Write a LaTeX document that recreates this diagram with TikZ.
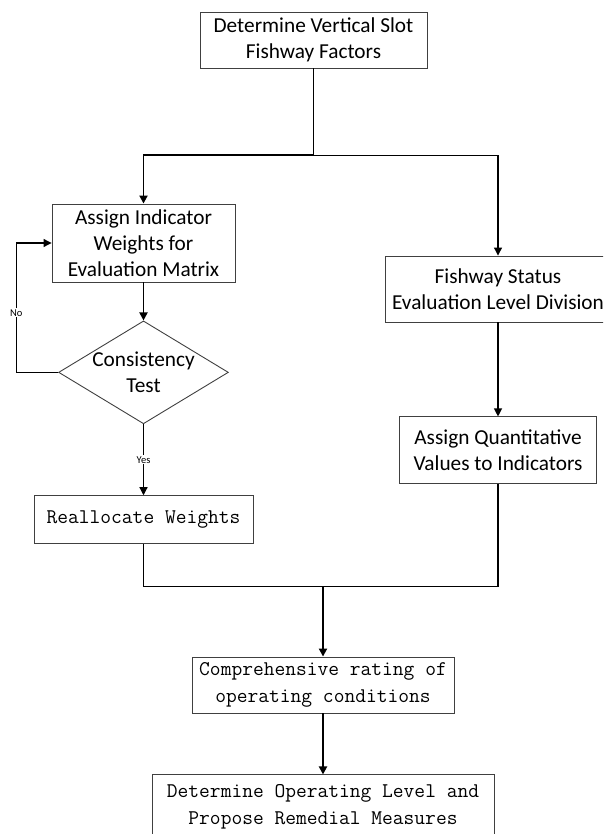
\documentclass[tikz,border=0pt]{standalone}
\usepackage{fontspec}
\setmainfont{Carlito}
\usetikzlibrary{shapes.geometric, arrows.meta, positioning, calc}

\begin{document}
\begin{tikzpicture}[
    x=1pt, y=1pt,
    process/.style={draw=black!75, line width=0.9pt, rectangle, align=center, font=\fontsize{21.3}{26}\selectfont, inner sep=2pt},
    mono/.style={draw=black!75, line width=0.9pt, rectangle, align=center, font=\fontsize{20.9}{27}\selectfont\ttfamily, inner sep=2pt},
    decision/.style={draw=black!75, line width=0.9pt, diamond, aspect=1.65, minimum width=168pt, minimum height=102pt, align=center, font=\fontsize{21.3}{26}\selectfont, inner sep=0pt},
    arrow/.style={draw, line width=1.1pt, -{Triangle[length=8pt,width=8pt]}},
    link/.style={draw, line width=1.1pt},
    heavy/.style={line width=1.9pt},
    tag/.style={font=\fontsize{10.5}{12}\selectfont, fill=white, inner sep=1pt}
]
\clip (0,0) rectangle (603,-834);

\node[process, minimum width=227pt, minimum height=56pt] (factors) at (313.5,-40) {Determine Vertical Slot\\Fishway Factors};
\node[process, minimum width=183pt, minimum height=78pt] (weights) at (143.5,-243) {Assign Indicator\\Weights for\\Evaluation Matrix};
\node[decision, below=38pt of weights] (test) {Consistency\\Test};
\node[mono, minimum width=219pt, minimum height=48pt, below=71pt of test] (realloc) {Reallocate Weights};
\node[process, minimum width=226pt, minimum height=66pt] (division) at (498,-289) {Fishway Status\\Evaluation Level Division};
\node[process, minimum width=197pt, minimum height=67pt, below=94pt of division] (quant) {Assign Quantitative\\Values to Indicators};
\node[mono, minimum width=262pt, minimum height=56pt] (rating) at (323,-685) {Comprehensive rating of\\operating conditions};
\node[mono, minimum width=342pt, minimum height=64pt, below=61pt of rating] (measures) {Determine Operating Level and\\Propose Remedial Measures};

\draw[link, heavy] (factors.south) -- ++(0,-87) coordinate (split);
\draw[arrow, heavy] (split) -| (weights.north);
\draw[arrow] (split) -| (division.north);
\draw[arrow, heavy] (weights) -- (test);
\draw[arrow] (test.west) -- ++(-42,0) |- node[tag, pos=0.23] {No} (weights.west);
\draw[arrow] (test) -- node[tag] {Yes} (realloc);
\draw[arrow] (division) -- (quant);
\coordinate (merge) at ($(rating.north)+(0,70)$);
\draw[link] (realloc) |- (merge);
\draw[link] (quant) |- (merge);
\draw[arrow, heavy] (merge) -- (rating);
\draw[arrow, heavy] (rating) -- (measures);

\end{tikzpicture}
\end{document}
